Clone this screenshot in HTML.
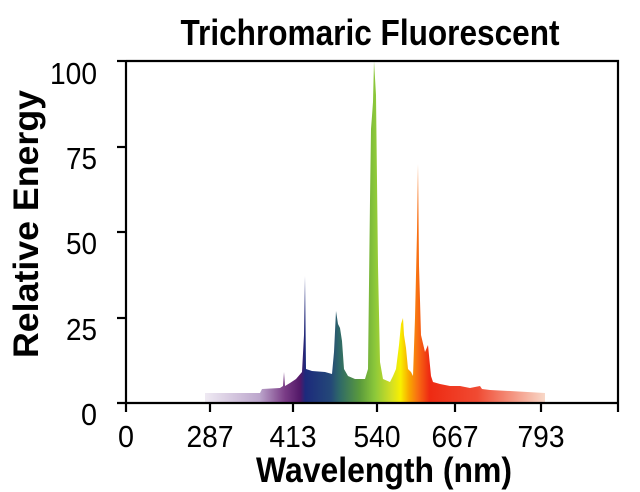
<!DOCTYPE html>
<html><head><meta charset="utf-8"><style>body{margin:0;background:#fff}svg{display:block}</style></head><body>
<svg width="640" height="492" viewBox="0 0 640 492" xmlns="http://www.w3.org/2000/svg" font-family="Liberation Sans, Arial, sans-serif">
<defs>
<linearGradient id="g" gradientUnits="userSpaceOnUse" x1="205" y1="0" x2="545" y2="0">
<stop offset="0" stop-color="#efeaf3"/>
<stop offset="0.16" stop-color="#bca6cc"/>
<stop offset="0.235" stop-color="#7a3c86"/>
<stop offset="0.28" stop-color="#521868"/>
<stop offset="0.295" stop-color="#1c2a7c"/>
<stop offset="0.37" stop-color="#244878"/>
<stop offset="0.395" stop-color="#2e6868"/>
<stop offset="0.455" stop-color="#5a9a3c"/>
<stop offset="0.5" stop-color="#8cc83a"/>
<stop offset="0.55" stop-color="#d6e022"/>
<stop offset="0.575" stop-color="#f8f000"/>
<stop offset="0.6" stop-color="#f8a800"/>
<stop offset="0.625" stop-color="#f87012"/>
<stop offset="0.66" stop-color="#ee2a12"/>
<stop offset="0.8" stop-color="#f04a32"/>
<stop offset="1" stop-color="#f8d8c8"/>
</linearGradient>
</defs>
<polygon fill="url(#g)" points="205,393 260,393 262,389 280,388 283,386 284,372 285,386 290,383 296,379 302,372 304,335 305,276 306,369 312,371 325,372 332,374 334,352 336,311 338,324 340,328 342,341 344,369 348,376 355,379 365,379 368,369 370,200 371,129 372,116 373,102 374,61 376,95 378,266 380,362 383,379 390,382 393,376 396,369 399,345 401,324 403,318 404,335 406,348 408,369 411,372 413,376 415,318 417,232 418,164 419,266 421,335 425,352 428,345 431,376 433,382 440,384 450,386 460,386 470,388 480,386 482,389 490,390 510,391 545,393 545,403 205,403"/>
<g stroke="#000" stroke-width="2.2" fill="none">
<polyline points="126,61 618,61 618,403"/>
<line x1="126" y1="61" x2="126" y2="412"/>
<line x1="117" y1="403" x2="619" y2="403"/>
<line x1="117" y1="61" x2="126" y2="61"/>
<line x1="117" y1="147" x2="126" y2="147"/>
<line x1="117" y1="232" x2="126" y2="232"/>
<line x1="117" y1="318" x2="126" y2="318"/>
<line x1="210" y1="403" x2="210" y2="412"/>
<line x1="293" y1="403" x2="293" y2="412"/>
<line x1="377" y1="403" x2="377" y2="412"/>
<line x1="455" y1="403" x2="455" y2="412"/>
<line x1="541" y1="403" x2="541" y2="412"/>
<line x1="618" y1="403" x2="618" y2="412"/>
</g>
<text x="370" y="45" font-size="36" font-weight="bold" text-anchor="middle" textLength="379" lengthAdjust="spacingAndGlyphs">Trichromaric Fluorescent</text>
<g font-size="31" text-anchor="end">
<text x="97" y="84" textLength="47" lengthAdjust="spacingAndGlyphs">100</text>
<text x="97" y="169" textLength="31" lengthAdjust="spacingAndGlyphs">75</text>
<text x="97" y="254" textLength="31" lengthAdjust="spacingAndGlyphs">50</text>
<text x="97" y="340" textLength="31" lengthAdjust="spacingAndGlyphs">25</text>
<text x="97" y="425" textLength="16" lengthAdjust="spacingAndGlyphs">0</text>
</g>
<g font-size="31" text-anchor="middle">
<text x="126" y="447" textLength="16" lengthAdjust="spacingAndGlyphs">0</text>
<text x="210" y="447" textLength="47" lengthAdjust="spacingAndGlyphs">287</text>
<text x="293" y="447" textLength="47" lengthAdjust="spacingAndGlyphs">413</text>
<text x="377" y="447" textLength="47" lengthAdjust="spacingAndGlyphs">540</text>
<text x="455" y="447" textLength="47" lengthAdjust="spacingAndGlyphs">667</text>
<text x="541" y="447" textLength="47" lengthAdjust="spacingAndGlyphs">793</text>
</g>
<text x="384" y="482" font-size="35" font-weight="bold" text-anchor="middle" textLength="256" lengthAdjust="spacingAndGlyphs">Wavelength (nm)</text>
<text transform="translate(38,224) rotate(-90)" font-size="35" font-weight="bold" text-anchor="middle" textLength="268" lengthAdjust="spacingAndGlyphs">Relative Energy</text>
</svg>
</body></html>
